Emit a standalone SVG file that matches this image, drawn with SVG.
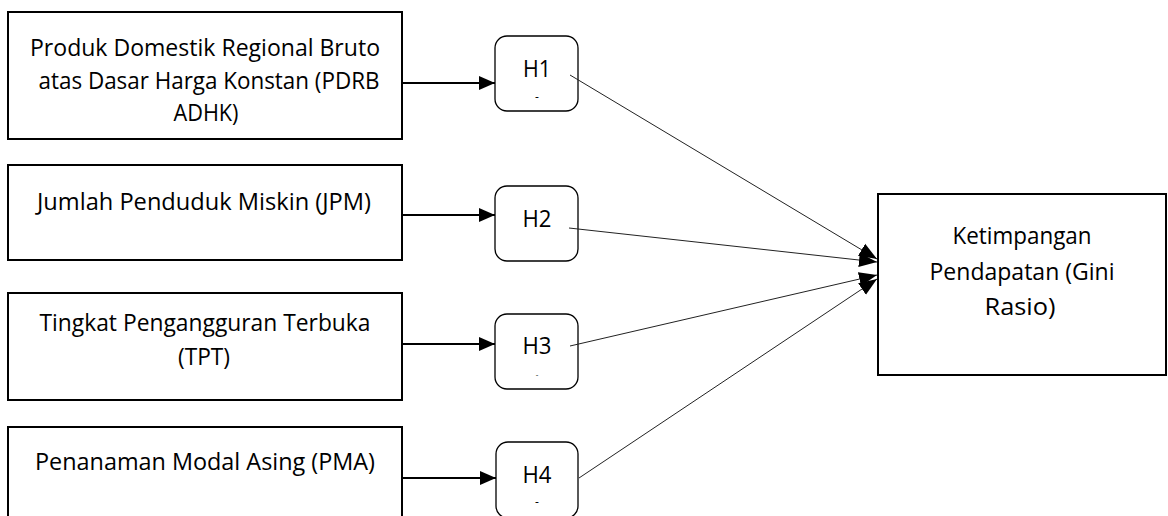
<svg xmlns="http://www.w3.org/2000/svg" width="1168" height="516" viewBox="0 0 1168 516">
<style>
.box{fill:#fff;stroke:#000;stroke-width:2}
.hyp{fill:#fff;stroke:#000;stroke-width:1.3}
text{font-family:"Open Sans","Liberation Sans",sans-serif;font-size:24px;fill:#000;text-anchor:middle}
.dot{font-size:12px}
.thick{stroke:#000;stroke-width:2;fill:none}
.thin{stroke:#222;stroke-width:1;fill:none}
</style>
<defs>
<marker id="ah" markerUnits="userSpaceOnUse" markerWidth="16" markerHeight="14" refX="16" refY="7" orient="auto">
<path d="M0,0 L16,7 L0,14 Z" fill="#000"/>
</marker>
<marker id="ah2" markerUnits="userSpaceOnUse" markerWidth="18" markerHeight="16" refX="18" refY="8" orient="auto">
<path d="M0,1 L18,8 L0,15 Z" fill="#000"/>
</marker>
</defs>
<rect width="1168" height="516" fill="#fff"/>
<g id="pdrb">
<rect class="box" x="8" y="12" width="394" height="127"/>
<text x="205" y="56" textLength="350" lengthAdjust="spacingAndGlyphs">Produk Domestik Regional Bruto</text>
<text x="209" y="89" textLength="341" lengthAdjust="spacingAndGlyphs">atas Dasar Harga Konstan (PDRB</text>
<text x="206" y="121" textLength="65" lengthAdjust="spacingAndGlyphs">ADHK)</text>
</g>
<g id="jpm">
<rect class="box" x="8" y="165" width="394" height="95"/>
<text x="204" y="210" textLength="334" lengthAdjust="spacingAndGlyphs">Jumlah Penduduk Miskin (JPM)</text>
</g>
<g id="tpt">
<rect class="box" x="8" y="293" width="394" height="107"/>
<text x="205" y="331" textLength="331" lengthAdjust="spacingAndGlyphs">Tingkat Pengangguran Terbuka</text>
<text x="204" y="365" textLength="52" lengthAdjust="spacingAndGlyphs">(TPT)</text>
</g>
<g id="pma">
<rect class="box" x="8" y="427" width="394" height="100"/>
<text x="205" y="470" textLength="340" lengthAdjust="spacingAndGlyphs">Penanaman Modal Asing (PMA)</text>
</g>
<g id="h1">
<rect class="hyp" x="495" y="36" width="83" height="75" rx="12"/>
<text x="537" y="77" textLength="28" lengthAdjust="spacingAndGlyphs">H1</text>
<text class="dot" x="537" y="101">-</text>
</g>
<g id="h2">
<rect class="hyp" x="495" y="186" width="83" height="75" rx="12"/>
<text x="537" y="227" textLength="29" lengthAdjust="spacingAndGlyphs">H2</text>
</g>
<g id="h3">
<rect class="hyp" x="495" y="314" width="83" height="75" rx="12"/>
<text x="537" y="354" textLength="29" lengthAdjust="spacingAndGlyphs">H3</text>
<text class="dot" x="537" y="377" style="font-size:8px">-</text>
</g>
<g id="h4">
<rect class="hyp" x="496" y="442" width="82" height="76" rx="12"/>
<text x="537" y="483" textLength="29" lengthAdjust="spacingAndGlyphs">H4</text>
<text class="dot" x="537" y="506">-</text>
</g>
<g id="gini">
<rect class="box" x="878" y="194" width="288" height="181"/>
<text x="1022" y="244" textLength="139" lengthAdjust="spacingAndGlyphs">Ketimpangan</text>
<text x="1022" y="280" textLength="185" lengthAdjust="spacingAndGlyphs">Pendapatan (Gini</text>
<text x="1020" y="315" textLength="71" lengthAdjust="spacingAndGlyphs">Rasio)</text>
</g>
<g id="connectors">
<line class="thick" x1="402" y1="83" x2="495" y2="83" marker-end="url(#ah)"/>
<line class="thick" x1="402" y1="215" x2="495" y2="215" marker-end="url(#ah)"/>
<line class="thick" x1="402" y1="344" x2="495" y2="344" marker-end="url(#ah)"/>
<line class="thick" x1="402" y1="478" x2="496" y2="478" marker-end="url(#ah)"/>
<line class="thin" x1="570" y1="75" x2="877" y2="259" marker-end="url(#ah2)"/>
<line class="thin" x1="569" y1="228" x2="877" y2="262" marker-end="url(#ah2)"/>
<line class="thin" x1="570" y1="346" x2="877" y2="275" marker-end="url(#ah2)"/>
<line class="thin" x1="579" y1="478" x2="877" y2="279" marker-end="url(#ah2)"/>
</g>
</svg>
